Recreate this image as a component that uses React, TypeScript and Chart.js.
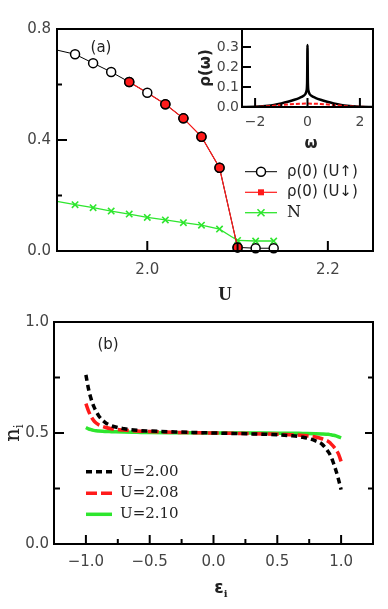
import React, { useEffect, useRef } from "react";
import { Chart, registerables } from "chart.js";
Chart.register(...registerables);

// ---------- Panel (a) data ----------
const uGrid = [1.90, 1.92, 1.94, 1.96, 1.98, 2.00, 2.02, 2.04, 2.06, 2.08, 2.10, 2.12, 2.14];
const rhoUp = [0.724, 0.709, 0.677, 0.645, 0.609, 0.570, 0.529, 0.478, 0.412, 0.300, 0.013, 0.010, 0.010];
const uDown = [1.98, 2.00, 2.02, 2.04, 2.06, 2.08, 2.10];
const rhoDown = [0.609, 0.570, 0.529, 0.478, 0.412, 0.300, 0.013];
const nTotal = [0.179, 0.167, 0.156, 0.144, 0.133, 0.121, 0.112, 0.102, 0.093, 0.079, 0.038, 0.036, 0.036];
const uTickLabels = [2.0, 2.2];
const uTicksMajor = [2.0, 2.2];
const uTicksMinor = [2.1];
const rhoTickLabels = [0.0, 0.4, 0.8];
const rhoTicksMajor = [0.4];
const rhoTicksMinor = [0.2, 0.6];

// ---------- Inset data ----------
const omega = [-2.5, -2.0, -1.5, -1.0, -0.75, -0.5, -0.3, -0.15, -0.08, -0.04, -0.015, 0, 0.015, 0.04, 0.08, 0.15, 0.3, 0.5, 0.75, 1.0, 1.5, 2.0, 2.5];
const dosUp = [0, 0.001, 0.006, 0.018, 0.026, 0.036, 0.046, 0.056, 0.065, 0.08, 0.12, 0.31, 0.12, 0.08, 0.065, 0.056, 0.046, 0.036, 0.026, 0.018, 0.006, 0.001, 0];
const omegaRed = [-2.5, -2.0, -1.5, -1.0, -0.5, 0, 0.5, 1.0, 1.5, 2.0, 2.5];
const dosRed = [0, 0.001, 0.004, 0.010, 0.015, 0.017, 0.015, 0.010, 0.004, 0.001, 0];
const omegaTickLabels = [-2, 0, 2];
const omegaTicksMajor = [-2, 0, 2];
const omegaTicksMinor = [-1, 1];
const dosTickLabels = [0.0, 0.1, 0.2, 0.3];

// ---------- Panel (b) data ----------
const eps = [-1.0, -0.98, -0.96, -0.94, -0.92, -0.9, -0.85, -0.8, -0.7, -0.6, -0.5, -0.3, 0, 0.3, 0.5, 0.6, 0.7, 0.8, 0.85, 0.9, 0.92, 0.94, 0.96, 0.98, 1.0];
const nU200 = [0.762, 0.70, 0.655, 0.622, 0.598, 0.578, 0.548, 0.533, 0.519, 0.512, 0.509, 0.505, 0.500, 0.496, 0.492, 0.488, 0.481, 0.465, 0.45, 0.415, 0.395, 0.365, 0.33, 0.29, 0.245];
const nU208 = [0.632, 0.60, 0.575, 0.557, 0.545, 0.537, 0.526, 0.519, 0.513, 0.509, 0.507, 0.503, 0.500, 0.497, 0.494, 0.492, 0.489, 0.482, 0.474, 0.462, 0.452, 0.44, 0.425, 0.405, 0.372];
const nU210 = [0.525, 0.519, 0.515, 0.512, 0.510, 0.509, 0.507, 0.506, 0.504, 0.503, 0.502, 0.501, 0.500, 0.500, 0.499, 0.499, 0.498, 0.497, 0.496, 0.494, 0.492, 0.490, 0.487, 0.483, 0.478];
const bLegend = ["U=2.00", "U=2.08", "U=2.10"];
const epsTickLabels = [-1.0, -0.5, 0.0, 0.5, 1.0];
const epsTicksMajor = [-1.0, -0.5, 0.0, 0.5, 1.0];
const epsTicksMinor = [-0.75, -0.25, 0.25, 0.75];
const nTickLabels = [0.0, 0.5, 1.0];
const nTicksMajor = [0.5];
const nTicksMinor = [0.25, 0.75];

const RED = "#ff1a1a";
const GREEN = "#2ee62e";
const TICK_FONT = "DejaVu Sans";
const SERIF = "DejaVu Serif";

const pts = (xs: number[], ys: number[]) => xs.map((x, i) => ({ x, y: ys[i] }));
const fmt1 = (v: number) => v.toFixed(1).replace("-", "\u2212");

type Part = { t: string; font: string; dy?: number };
function drawRich(ctx: CanvasRenderingContext2D, x: number, y: number, parts: Part[], align: "center" | "left" = "center") {
  let w = 0;
  for (const p of parts) { ctx.font = p.font; w += ctx.measureText(p.t).width; }
  let cx = align === "center" ? x - w / 2 : x;
  ctx.textAlign = "left";
  for (const p of parts) { ctx.font = p.font; ctx.fillText(p.t, cx, y + (p.dy || 0)); cx += ctx.measureText(p.t).width; }
}

type TickSpec = { side: "bottom" | "left" | "right"; values: number[]; len: number };
type Decor = {
  ticks: TickSpec[];
  draw?: (ctx: CanvasRenderingContext2D, chart: any) => void;
};

function decorPlugin(d: Decor) {
  return {
    id: "decor",
    afterDraw(chart: any) {
      const ctx: CanvasRenderingContext2D = chart.ctx;
      const a = chart.chartArea;
      const xs = chart.scales.x, ys = chart.scales.y;
      ctx.save();
      ctx.strokeStyle = "#000";
      ctx.lineWidth = 2;
      ctx.setLineDash([]);
      ctx.lineCap = "butt";
      for (const t of d.ticks) {
        ctx.lineWidth = 2;
        for (const v of t.values) {
          ctx.beginPath();
          if (t.side === "bottom") {
            const px = xs.getPixelForValue(v);
            ctx.moveTo(px, a.bottom); ctx.lineTo(px, a.bottom - t.len);
          } else if (t.side === "left") {
            const py = ys.getPixelForValue(v);
            ctx.moveTo(a.left, py); ctx.lineTo(a.left + t.len, py);
          } else {
            const py = ys.getPixelForValue(v);
            ctx.moveTo(a.right, py); ctx.lineTo(a.right - t.len, py);
          }
          ctx.stroke();
        }
      }
      ctx.lineWidth = 2;
      ctx.strokeRect(a.left, a.top, a.right - a.left, a.bottom - a.top);
      ctx.fillStyle = "#222";
      ctx.textBaseline = "alphabetic";
      if (d.draw) d.draw(ctx, chart);
      ctx.restore();
    },
  };
}

function tickCfg(size: number, labels: number[], pad: number, fmt: (v: number) => string) {
  return {
    ticks: {
      color: "#444",
      font: { family: TICK_FONT, size },
      padding: pad,
      autoSkip: false,
      maxRotation: 0,
      callback: (v: any) => fmt(Number(v)),
    },
    afterBuildTicks: (s: any) => { s.ticks = labels.map((v) => ({ value: v })); },
    grid: { display: false, drawTicks: false },
    border: { display: false },
  };
}

function App() {
  const topRef = useRef<HTMLCanvasElement>(null);
  const insetRef = useRef<HTMLCanvasElement>(null);
  const botRef = useRef<HTMLCanvasElement>(null);

  useEffect(() => {
    document.body.style.margin = "0";
    const charts: Chart[] = [];

    // ---------- Panel (a) ----------
    const hideFirst = (r: number) => (c: any) => (c.dataIndex === 0 ? 0 : r);
    charts.push(new Chart(topRef.current!, {
      type: "scatter",
      data: {
        datasets: [
          { // red markers (top layer)
            data: pts(uDown, rhoDown), showLine: false, order: 0,
            pointRadius: (c: any) => (c.dataIndex === 1 ? 0 : 4.5),
            pointBackgroundColor: RED, pointBorderColor: "#000", pointBorderWidth: 1.5, clip: 6,
          } as any,
          { // black open circles
            data: pts(uGrid, rhoUp), showLine: false, order: 1, pointRadius: hideFirst(4.5),
            pointBackgroundColor: "#fff", pointBorderColor: "#000", pointBorderWidth: 1.5, clip: 6,
          },
          { // red line
            data: pts(uDown, rhoDown), showLine: true, order: 2,
            borderColor: RED, borderWidth: 1.2, pointRadius: 0, clip: 6,
          },
          { // black line
            data: pts(uGrid, rhoUp), showLine: true, order: 3,
            borderColor: "#000", borderWidth: 1, pointRadius: 0, clip: 6,
          },
          { // green N
            data: pts(uGrid, nTotal), showLine: true, order: 4,
            borderColor: GREEN, borderWidth: 1.3, pointRadius: hideFirst(4.5), pointStyle: "crossRot",
            pointBorderColor: GREEN, pointBorderWidth: 1.6, clip: 6,
          },
        ],
      },
      options: {
        animation: false, responsive: false, devicePixelRatio: 1,
        layout: { padding: { left: 0, top: 29, right: 15, bottom: 0 } },
        plugins: { legend: { display: false }, tooltip: { enabled: false } },
        scales: {
          x: { type: "linear", min: 1.9, max: 2.25, ...tickCfg(15, uTickLabels, 10, fmt1),
            afterFit: (s: any) => { s.height = 49; } } as any,
          y: { type: "linear", min: 0, max: 0.8, ...tickCfg(15, rhoTickLabels, 6, fmt1),
            afterFit: (s: any) => { s.width = 57; } } as any,
        },
      },
      plugins: [decorPlugin({
        ticks: [
          { side: "bottom", values: uTicksMajor, len: 10 },
          { side: "bottom", values: uTicksMinor, len: 8 },
          { side: "left", values: rhoTicksMajor, len: 10 },
          { side: "left", values: rhoTicksMinor, len: 5 },
        ],
        draw: (ctx) => {
          drawRich(ctx, 101, 52, [{ t: "(a)", font: `15px ${TICK_FONT}` }]);
          drawRich(ctx, 225, 300, [{ t: "U", font: `bold 19px "Liberation Serif"` }]);
          // legend
          const rows = [171.7, 192.3, 212.7];
          const x1 = 245, x2 = 277, xm = 261, xt = 287;
          ctx.lineWidth = 1; ctx.strokeStyle = "#000";
          ctx.beginPath(); ctx.moveTo(x1, rows[0]); ctx.lineTo(x2, rows[0]); ctx.stroke();
          ctx.beginPath(); ctx.arc(xm, rows[0], 4.5, 0, Math.PI * 2);
          ctx.fillStyle = "#fff"; ctx.fill(); ctx.lineWidth = 1.5; ctx.stroke();
          ctx.strokeStyle = RED; ctx.lineWidth = 1.2;
          ctx.beginPath(); ctx.moveTo(x1, rows[1]); ctx.lineTo(x2, rows[1]); ctx.stroke();
          ctx.fillStyle = RED; ctx.fillRect(xm - 3, rows[1] - 3, 6, 6);
          ctx.strokeStyle = GREEN; ctx.lineWidth = 1.3;
          ctx.beginPath(); ctx.moveTo(x1, rows[2]); ctx.lineTo(x2, rows[2]); ctx.stroke();
          ctx.lineWidth = 1.6; ctx.beginPath();
          ctx.moveTo(xm - 3.5, rows[2] - 3.5); ctx.lineTo(xm + 3.5, rows[2] + 3.5);
          ctx.moveTo(xm + 3.5, rows[2] - 3.5); ctx.lineTo(xm - 3.5, rows[2] + 3.5); ctx.stroke();
          ctx.fillStyle = "#222"; ctx.textBaseline = "middle";
          drawRich(ctx, xt, rows[0], [{ t: "\u03c1(0) (U\u2191)", font: `15px ${TICK_FONT}` }], "left");
          drawRich(ctx, xt, rows[1], [{ t: "\u03c1(0) (U\u2193)", font: `15px ${TICK_FONT}` }], "left");
          drawRich(ctx, xt, rows[2], [{ t: "N", font: `16px ${SERIF}` }], "left");
        },
      }) as any],
    } as any));

    // ---------- Inset ----------
    charts.push(new Chart(insetRef.current!, {
      type: "scatter",
      data: {
        datasets: [
          { data: pts(omegaRed, dosRed), showLine: true, order: 0, borderColor: RED, borderWidth: 2,
            borderDash: [4, 2], pointRadius: 0, cubicInterpolationMode: "monotone" },
          { data: pts(omega, dosUp), showLine: true, order: 1, borderColor: "#000", borderWidth: 2.5,
            pointRadius: 0, cubicInterpolationMode: "monotone" },
        ],
      },
      options: {
        animation: false, responsive: false, devicePixelRatio: 1,
        layout: { padding: { left: 0, top: 29, right: 15, bottom: 0 } },
        plugins: { legend: { display: false }, tooltip: { enabled: false } },
        scales: {
          x: { type: "linear", min: -2.5, max: 2.5, ...tickCfg(14, omegaTickLabels, 7, (v) => String(Math.round(v)).replace("-", "\u2212")),
            afterFit: (s: any) => { s.height = 53; } } as any,
          y: { type: "linear", min: 0, max: 0.39, ...tickCfg(14, dosTickLabels, 3, fmt1),
            afterFit: (s: any) => { s.width = 52; } } as any,
        },
      },
      plugins: [decorPlugin({
        ticks: [
          { side: "bottom", values: omegaTicksMajor, len: 9 },
          { side: "bottom", values: omegaTicksMinor, len: 4 },
          { side: "left", values: dosTickLabels.slice(1), len: 9 },
        ],
        draw: (ctx) => {
          ctx.save();
          ctx.translate(16, 68); ctx.rotate(-Math.PI / 2);
          ctx.textBaseline = "middle";
          drawRich(ctx, 0, 0, [{ t: "\u03c1(\u03c9)", font: `bold 15px ${TICK_FONT}` }]);
          ctx.restore();
          ctx.textBaseline = "middle";
          drawRich(ctx, 121, 144, [{ t: "\u03c9", font: `bold 15px ${TICK_FONT}` }]);
        },
      }) as any],
    } as any));

    // ---------- Panel (b) ----------
    charts.push(new Chart(botRef.current!, {
      type: "scatter",
      data: {
        datasets: [
          { data: pts(eps, nU200), showLine: true, order: 0, borderColor: "#000", borderWidth: 3.5,
            borderDash: [6, 4], pointRadius: 0, cubicInterpolationMode: "monotone" },
          { data: pts(eps, nU208), showLine: true, order: 1, borderColor: RED, borderWidth: 3.5,
            borderDash: [11, 4], pointRadius: 0, cubicInterpolationMode: "monotone" },
          { data: pts(eps, nU210), showLine: true, order: 2, borderColor: GREEN, borderWidth: 3.5,
            pointRadius: 0, cubicInterpolationMode: "monotone" },
        ],
      },
      options: {
        animation: false, responsive: false, devicePixelRatio: 1,
        layout: { padding: { left: 0, top: 22, right: 15, bottom: 0 } },
        plugins: { legend: { display: false }, tooltip: { enabled: false } },
        scales: {
          x: { type: "linear", min: -1.25, max: 1.25, ...tickCfg(15, epsTickLabels, 9, fmt1),
            afterFit: (s: any) => { s.height = 65; } } as any,
          y: { type: "linear", min: 0, max: 1.0, ...tickCfg(15, nTickLabels, 5, fmt1),
            afterFit: (s: any) => { s.width = 54; } } as any,
        },
      },
      plugins: [decorPlugin({
        ticks: [
          { side: "bottom", values: epsTicksMajor, len: 9 },
          { side: "bottom", values: epsTicksMinor, len: 5 },
          { side: "left", values: nTicksMajor, len: 10 },
          { side: "left", values: nTicksMinor, len: 6 },
          { side: "right", values: nTicksMajor, len: 8 },
          { side: "right", values: nTicksMinor, len: 5 },
        ],
        draw: (ctx) => {
          drawRich(ctx, 108, 49, [{ t: "(b)", font: `15px ${TICK_FONT}` }]);
          // n_i
          ctx.save();
          ctx.translate(19, 133); ctx.rotate(-Math.PI / 2);
          drawRich(ctx, 0, 0, [{ t: "n", font: `21px ${SERIF}` }, { t: "i", font: `12px ${SERIF}`, dy: 4 }]);
          ctx.restore();
          // eps_i
          drawRich(ctx, 221, 293, [{ t: "\u03b5", font: `bold 17px ${TICK_FONT}` }, { t: "i", font: `bold 10px ${SERIF}`, dy: 4 }]);
          // legend
          const rows = [171.7, 193.3, 214.3];
          const x1 = 86, x2 = 112, xt = 120;
          const styles = [{ c: "#000", d: [6, 4] }, { c: RED, d: [11, 4] }, { c: GREEN, d: [] as number[] }];
          styles.forEach((s, i) => {
            ctx.strokeStyle = s.c; ctx.lineWidth = 3.5; ctx.setLineDash(s.d);
            ctx.beginPath(); ctx.moveTo(x1, rows[i]); ctx.lineTo(x2, rows[i]); ctx.stroke();
          });
          ctx.setLineDash([]);
          ctx.fillStyle = "#222"; ctx.textBaseline = "middle";
          bLegend.forEach((t, i) => drawRich(ctx, xt, rows[i], [{ t, font: `15px ${SERIF}` }], "left"));
        },
      }) as any],
    } as any));

    return () => { charts.forEach((c) => c.destroy()); };
  }, []);

  return (
    <div style={{ position: "relative", width: 388, height: 609, background: "#fff" }}>
      <canvas ref={topRef} width={388} height={300} style={{ position: "absolute", left: 0, top: 0 }} />
      <canvas ref={insetRef} width={198} height={160} style={{ position: "absolute", left: 190, top: 0 }} />
      <canvas ref={botRef} width={388} height={309} style={{ position: "absolute", left: 0, top: 300 }} />
    </div>
  );
}

export default App;
